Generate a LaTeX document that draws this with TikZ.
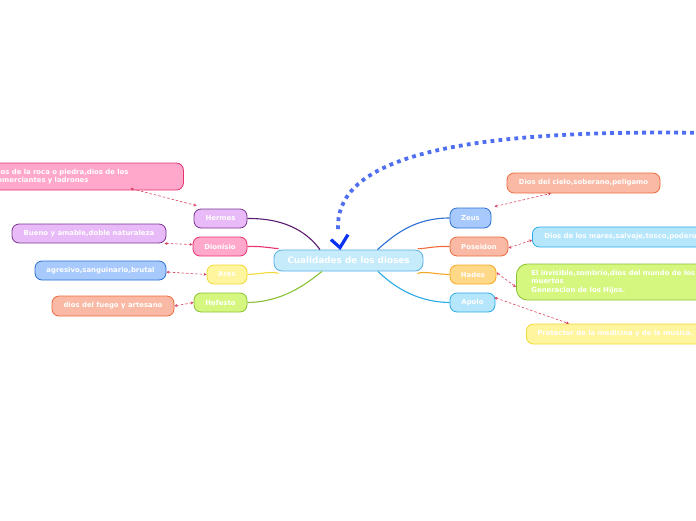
\documentclass[tikz,border=0pt]{standalone}
\usepackage{fontspec}
\setmainfont{DejaVu Sans}
\usetikzlibrary{arrows.meta,calc}
\definecolor{cfill}{HTML}{C6ECFC}\definecolor{cbord}{HTML}{5AAEE3}
\definecolor{pufill}{HTML}{E9BAF8}\definecolor{pubord}{HTML}{7A3590}\definecolor{puline}{HTML}{5A1A6E}
\definecolor{pkfill}{HTML}{FFA8CC}\definecolor{pkbord}{HTML}{E8336E}
\definecolor{yefill}{HTML}{FFF59E}\definecolor{yebord}{HTML}{F0D838}
\definecolor{grfill}{HTML}{D6F77F}\definecolor{grbord}{HTML}{88C234}
\definecolor{blfill}{HTML}{A8C9FC}\definecolor{blbord}{HTML}{2A6FD6}
\definecolor{safill}{HTML}{F9B9A4}\definecolor{sabord}{HTML}{F06A3C}
\definecolor{orfill}{HTML}{FFD888}\definecolor{orbord}{HTML}{F5A623}
\definecolor{cyfill}{HTML}{B5E6FB}\definecolor{cybord}{HTML}{2AAAE8}
\definecolor{dlcol}{HTML}{D9415E}
\definecolor{dotcol}{HTML}{4F6FF0}\definecolor{vcol}{HTML}{0A32F5}
\tikzset{
  box/.style={draw, line width=0.8pt, rounded corners=7pt, text=white,
    font=\fontsize{6.9}{8.4}\selectfont\bfseries, inner sep=0pt, minimum height=19pt},
  lbox/.style={box, align=left},
  dlink/.style={draw=dlcol, line width=0.6pt, dash pattern=on 2.5pt off 2pt,
    {Stealth[length=3pt,width=3pt]}-{Stealth[length=3pt,width=3pt]}},
  branch/.style={line width=1.1pt},
}
\begin{document}
\begin{tikzpicture}[x=1pt,y=-1pt]
\useasboundingbox (0,0) rectangle (696,520);
% central
\node[box, fill=cfill, draw=cbord, minimum width=149pt, minimum height=21pt, rounded corners=8pt,
  font=\fontsize{8.8}{10}\selectfont\bfseries] (c) at (348.5,260.5) {Cualidades de los dioses};
% left children
\node[box, fill=pufill, draw=pubord, minimum width=53pt] (hermes) at (220.5,218.5) {Hermes};
\node[box, fill=pkfill, draw=pkbord, minimum width=54pt] (dionisio) at (220,246.5) {Dionisio};
\node[box, fill=yefill, draw=yebord, minimum width=40pt] (ares) at (227,274.5) {Ares};
\node[box, fill=grfill, draw=grbord, minimum width=53pt] (hefesto) at (220.5,302.5) {Hefesto};
% right children
\node[box, fill=blfill, draw=blbord, minimum width=41pt, minimum height=20pt] (zeus) at (470.5,218) {Zeus};
\node[box, fill=safill, draw=sabord, minimum width=58pt] (poseidon) at (479,246.5) {Poseidon};
\node[box, fill=orfill, draw=orbord, minimum width=46pt] (hades) at (473,274.5) {Hades};
\node[box, fill=cyfill, draw=cybord, minimum width=45pt] (apolo) at (472.5,302.5) {Apolo};
% left details
\node[lbox, fill=pkfill, draw=pkbord, anchor=west, inner xsep=13pt, text width=177pt, minimum height=27pt] (hermesD) at (-20,176.5)
  {dios de la roca o piedra,dios de los\\comerciantes y ladrones};
\node[box, fill=pufill, draw=pubord, minimum width=154pt] (bueno) at (89,233.5) {Bueno y amable,doble naturaleza};
\node[box, fill=blfill, draw=blbord, minimum width=131pt] (agresivo) at (100.5,270.5) {agresivo,sanguinario,brutal};
\node[box, fill=safill, draw=sabord, minimum width=122pt, minimum height=20pt] (fuego) at (113,306) {dios del fuego y artesano};
% right details
\node[box, fill=safill, draw=sabord, minimum width=153pt, minimum height=20pt] (zeusD) at (583.5,183) {Dios del cielo,soberano,peligamo};
\node[lbox, fill=cyfill, draw=cybord, anchor=west, inner xsep=12pt, text width=176pt, minimum height=20pt] (posD) at (532,237)
  {Dios de los mares,salvaje,tosco,poderoso};
\node[lbox, fill=grfill, draw=grbord, anchor=west, inner xsep=15pt, text width=190pt, minimum height=36pt, rounded corners=11pt] (hadesD) at (516,282)
  {El invisible,sombrio,dios del mundo de los\\muertos\\Generacion de los Hijos.};
\node[lbox, fill=yefill, draw=yebord, anchor=west, inner xsep=11pt, text width=190pt, minimum height=20pt] (apoloD) at (526,334)
  {Protector de la medicina y de la musica.};
% branches
\draw[branch, puline] (hermes.east) .. controls (290,218) and (310,236) .. ([xshift=-28.5pt]c.north);
\draw[branch, pkbord] (dionisio.east) .. controls (262,246) and (270,248) .. ([shift={(-70,-1)}]c.north);
\draw[branch, yebord] (ares.east) .. controls (262,274) and (270,271) .. ([shift={(-70,2)}]c.south);
\draw[branch, grbord] (hefesto.east) .. controls (282,302) and (305,285) .. ([xshift=-26.5pt]c.south);
\draw[branch, blbord] (zeus.west) .. controls (415,218) and (395,234) .. ([xshift=29pt]c.north);
\draw[branch, sabord] (poseidon.west) .. controls (432,246) and (425,249) .. ([shift={(69,-1)}]c.north);
\draw[branch, orbord] (hades.west) .. controls (433,274) and (426,271) .. ([shift={(69,2)}]c.south);
\draw[branch, cybord] (apolo.west) .. controls (415,302) and (392,285) .. ([xshift=29.5pt]c.south);
% detail links
\draw[dlink] ([shift={(48.5,-2)}]hermesD.south) -- ([shift={(3,-3)}]hermes.north west);
\draw[dlink] ([shift={(-2,0)}]bueno.south east) -- ([shift={(0,-2)}]dionisio.west);
\draw[dlink] ([shift={(0,1.5)}]agresivo.east) -- (ares.west);
\draw[dlink] (fuego.east) -- (hefesto.west);
\draw[dlink] ([shift={(3,-1)}]zeus.north east) -- ([xshift=-32.5pt]zeusD.south);
\draw[dlink] ([yshift=-1.5pt]poseidon.east) -- ([shift={(0,3)}]posD.west);
\draw[dlink] ([yshift=2pt]hades.east) -- ([yshift=-5pt]hadesD.west);
\draw[dlink] ([shift={(-1,-5)}]apolo.east) -- ([xshift=43pt]apoloD.north west);
% dotted arc with V head
\coordinate (src) at (710,133);
\coordinate (vtip) at ([shift={(-8.5,-2)}]c.north);
\draw[dotcol, line width=3.8pt, dash pattern=on 3.8pt off 4.2pt]
  (src) .. controls (430,128) and (335,165) .. ([shift={(-2,-18)}]vtip);
\draw[vcol, line width=3.2pt, line join=miter] ([shift={(-9,-8)}]vtip) -- (vtip) -- ([shift={(8,-13)}]vtip);
\end{tikzpicture}
\end{document}
